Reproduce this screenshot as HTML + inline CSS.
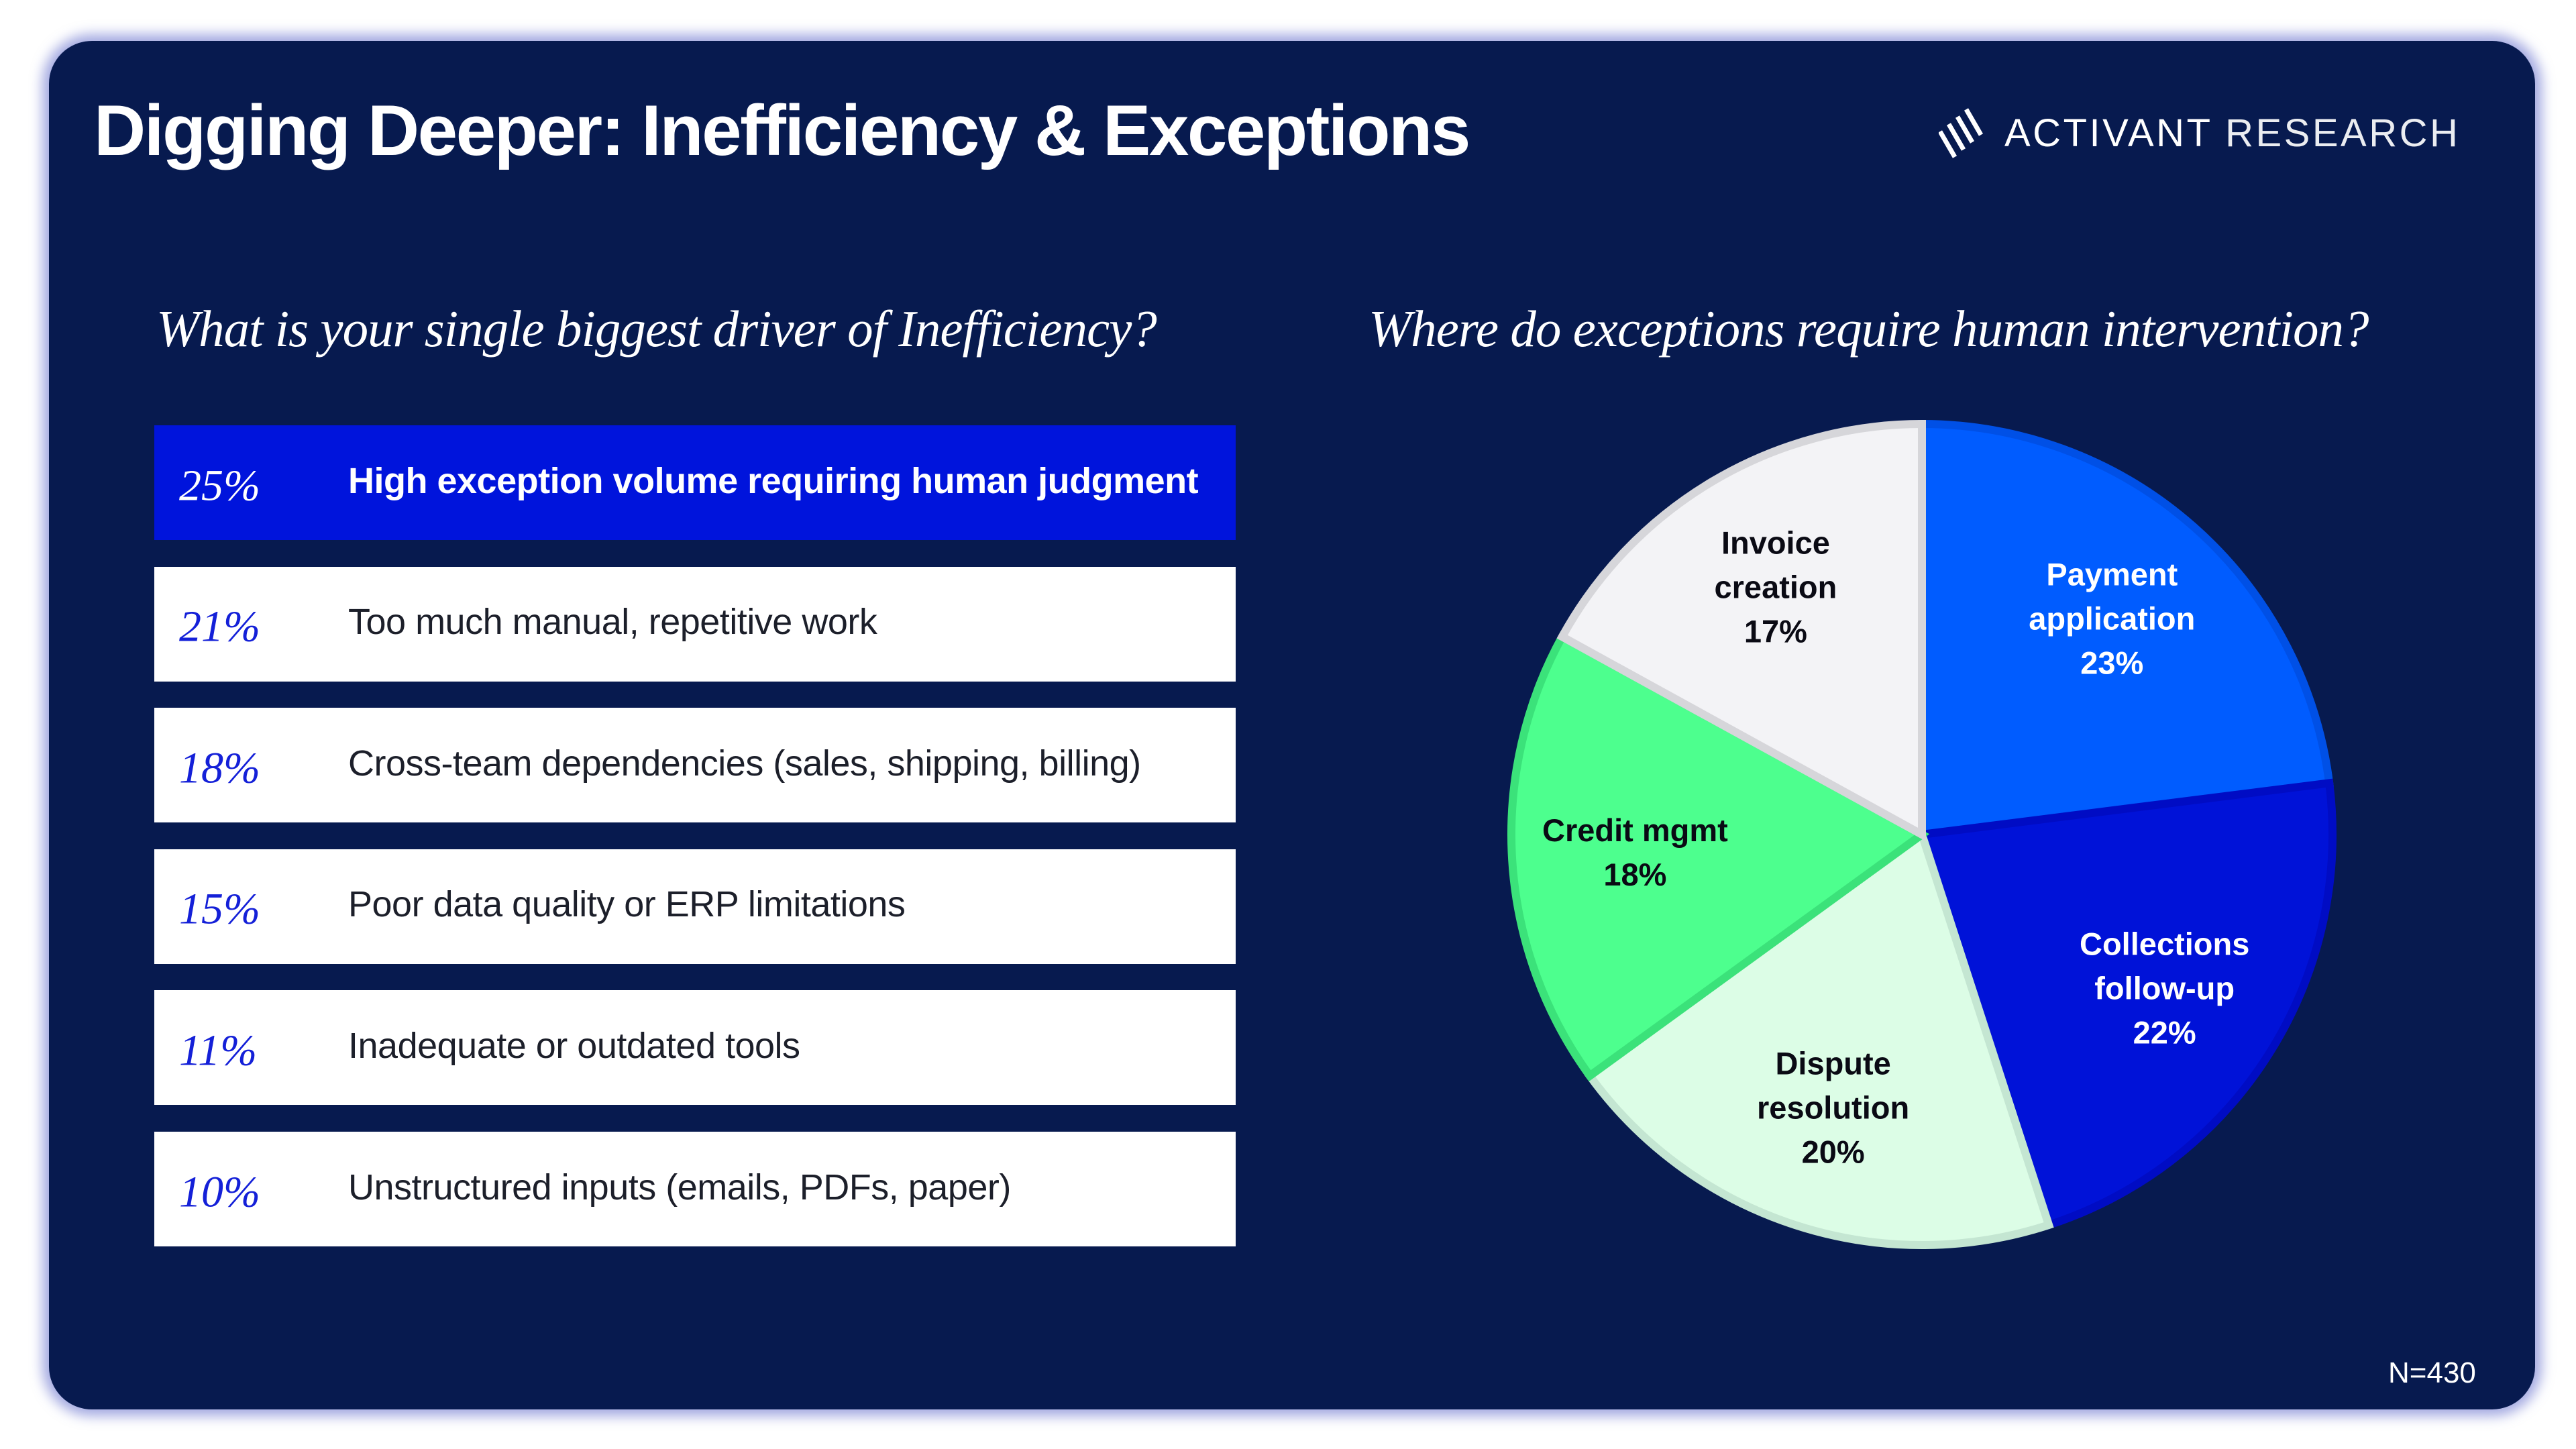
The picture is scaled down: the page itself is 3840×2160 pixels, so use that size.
<!DOCTYPE html>
<html><head><meta charset="utf-8">
<style>
html,body{margin:0;padding:0;background:#fff;}
body{width:3840px;height:2160px;position:relative;overflow:hidden;font-family:"Liberation Sans",sans-serif;}
#card{position:absolute;left:73px;top:61px;width:3706px;height:2040px;border-radius:64px;background:#071a4f;box-shadow:0 0 18px 10px rgba(90,100,200,0.55);}
.abs{position:absolute;white-space:nowrap;}
#title{left:140px;top:132px;font-size:107px;font-weight:bold;color:#fff;letter-spacing:-2.5px;}
.sub{top:446px;font-family:"Liberation Serif",serif;font-style:italic;font-size:77px;color:#fff;letter-spacing:-1px;}
.row{position:absolute;left:230px;width:1612px;height:171px;background:#fff;}
.row.hi{background:#0014dc;}
.pct{position:absolute;left:37px;top:50%;transform:translateY(-44%);font-family:"Liberation Serif",serif;font-style:italic;font-size:66px;color:#1420d8;}
.row.hi .pct{color:#fff;}
.lab{position:absolute;left:289px;top:50%;transform:translateY(-55%);font-size:54px;color:#1c1f2a;letter-spacing:-0.5px;}
.row.hi .lab{color:#fff;font-weight:bold;}
</style></head><body>
<div id="card"></div>
<div id="title" class="abs">Digging Deeper: Inefficiency &amp; Exceptions</div>
<div class="abs" style="left:2890px;top:150px;">
<svg width="90" height="90" viewBox="0 0 90 90" style="position:absolute;left:0;top:0">
<g stroke="#fff" stroke-width="7" stroke-linecap="butt">
<line x1="2" y1="46" x2="24" y2="84"/><line x1="15" y1="35" x2="37" y2="73"/><line x1="28" y1="24" x2="50" y2="62"/><line x1="41" y1="13" x2="63" y2="51"/>
</g></svg>
<span style="position:absolute;left:98px;top:15px;font-size:58px;color:#fff;letter-spacing:3.5px;">ACTIVANT <span style="font-weight:300;opacity:0.92">RESEARCH</span></span>
</div>
<div class="abs sub" style="left:233px;">What is your single biggest driver of Inefficiency?</div>
<div class="abs sub" style="left:2040px;">Where do exceptions require human intervention?</div>
<div id="rows"></div>
<svg id="pie" width="3840" height="2160" style="position:absolute;left:0;top:0"></svg>
<div class="abs" style="left:3560px;top:2022px;font-size:44px;color:#fff;">N=430</div>
<script>
const barPcts = [25, 21, 18, 15, 11, 10];
const barLabels = ["High exception volume requiring human judgment","Too much manual, repetitive work","Cross-team dependencies (sales, shipping, billing)","Poor data quality or ERP limitations","Inadequate or outdated tools","Unstructured inputs (emails, PDFs, paper)"];
const pieNames = [["Payment","application"],["Collections","follow-up"],["Dispute","resolution"],["Credit mgmt"],["Invoice","creation"]];
const pieValues = [23, 22, 20, 18, 17];
const pieFill = ["#005cff","#0012d8","#dcfde6","#4dff8e","#f3f3f6"];
const pieStroke = ["#0050e6","#000cc4","#c4e6d2","#3be27a","#d6d6da"];
const pieText = ["#fff","#fff","#0a0a14","#0a0a14","#0a0a14"];

const rows = document.getElementById('rows');
barPcts.forEach((p,i)=>{
  const r=document.createElement('div');
  r.className='row'+(i===0?' hi':'');
  r.style.top=(634+i*210.6)+'px';
  
  
  const a=document.createElement('div');a.className='pct';a.textContent=p+'%';
  
  
  const b=document.createElement('div');b.className='lab';b.textContent=barLabels[i];
  
  
  r.appendChild(a);r.appendChild(b);rows.appendChild(r);
});

const svg=document.getElementById('pie');
const NS='http://www.w3.org/2000/svg';
const cx=2865, cy=1244, R=612;
const total=pieValues.reduce((s,v)=>s+v,0);
function pt(frac,rad){const a=frac*2*Math.PI;return [cx+rad*Math.sin(a),cy-rad*Math.cos(a)];}
let acc=0;
pieValues.forEach((v,i)=>{
  const f0=acc/total,f1=(acc+v)/total;acc+=v;
  const p0=pt(f0,R),p1=pt(f1,R);
  const large=(f1-f0)>0.5?1:0;
  const path=document.createElementNS(NS,'path');
  path.setAttribute('d',`M${cx},${cy} L${p0[0]},${p0[1]} A${R},${R} 0 ${large} 1 ${p1[0]},${p1[1]} Z`);
  path.setAttribute('fill',pieFill[i]);
  path.setAttribute('stroke',pieStroke[i]);
  path.setAttribute('stroke-width','12');
  path.setAttribute('stroke-linejoin','miter');
  
  
  svg.appendChild(path);
});
acc=0;
pieValues.forEach((v,i)=>{
  const fm=(acc+v/2)/total;acc+=v;
  const c=pt(fm,R*0.7);
  const lines=pieNames[i].concat([v+'%']);
  const t=document.createElementNS(NS,'text');
  t.setAttribute('text-anchor','middle');
  t.setAttribute('font-family','Liberation Sans, sans-serif');
  t.setAttribute('font-weight','bold');
  t.setAttribute('font-size','47');
  t.setAttribute('fill',pieText[i]);
  
  
  const lh=66, y0=c[1]-(lines.length-1)*lh/2+16;
  lines.forEach((s,k)=>{
    const ts=document.createElementNS(NS,'tspan');
    ts.setAttribute('x',c[0]);ts.setAttribute('y',y0+k*lh);ts.textContent=s;t.appendChild(ts);
  });
  svg.appendChild(t);
});
</script>
</body></html>
